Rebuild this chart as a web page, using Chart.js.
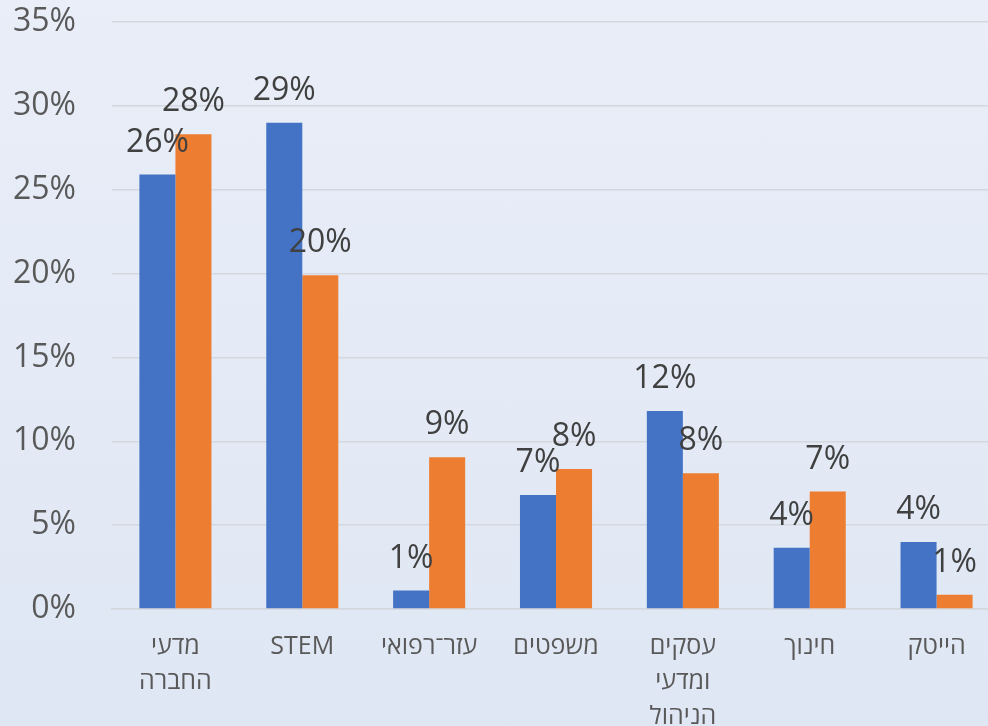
<!DOCTYPE html>
<html>
<head>
<meta charset="utf-8">
<script src="https://cdn.jsdelivr.net/npm/chart.js@4/dist/chart.umd.min.js"></script>
<style>
html,body{margin:0;padding:0;overflow:hidden;width:988px;height:726px;}
#wrap{width:1000px;height:726px;background:linear-gradient(180deg,#e9eef8 0%,#dfe7f4 100%);}
</style>
</head>
<body>
<div id="wrap"><canvas id="c" width="1000" height="726"></canvas></div>
<script>
const categories = [["מדעי","החברה"],"STEM","עזר־רפואי","משפטים",["עסקים","ומדעי","הניהול"],"חינוך","הייטק"];
const seriesBlue = [25.9, 29.0, 1.1, 6.8, 11.8, 3.65, 4.0];
const seriesOrange = [28.3, 19.9, 9.05, 8.35, 8.1, 7.0, 0.85];
const labelsBlue = ["26%","29%","1%","7%","12%","4%","4%"];
const labelsOrange = ["28%","20%","9%","8%","8%","7%","1%"];
const yTicks = [0,5,10,15,20,25,30,35];

const valueLabels = {
  id:'valueLabels',
  afterDatasetsDraw(chart){
    const ctx = chart.ctx;
    const texts = [labelsBlue, labelsOrange];
    ctx.save();
    ctx.font = '32px "Open Sans"';
    ctx.fillStyle = '#404040';
    ctx.textAlign = 'center';
    ctx.textBaseline = 'middle';
    chart.data.datasets.forEach((ds,i)=>{
      chart.getDatasetMeta(i).data.forEach((bar,j)=>{
        ctx.fillText(texts[i][j], bar.x, bar.y - 32);
      });
    });
    ctx.restore();
  }
};

new Chart(document.getElementById('c'),{
  type:'bar',
  data:{
    labels:categories,
    datasets:[
      {data:seriesBlue, backgroundColor:'#4472C4', borderWidth:0},
      {data:seriesOrange, backgroundColor:'#ED7D31', borderWidth:0}
    ]
  },
  options:{
    responsive:false,
    animation:false,
    layout:{padding:{top:22,right:0,left:0,bottom:0}},
    plugins:{legend:{display:false},tooltip:{enabled:false}},
    datasets:{bar:{barPercentage:1.0,categoryPercentage:0.568}},
    scales:{
      x:{
        grid:{display:false,drawTicks:false},
        border:{display:true,color:'#d4d8de',width:1.5},
        ticks:{color:'#595959',font:{family:'"Open Sans"',size:25,lineHeight:1.4},padding:20,maxRotation:0,autoSkip:false},
        afterFit(s){s.height=117;s.paddingLeft=0;s.paddingRight=0;}
      },
      y:{
        min:0,max:35,
        afterBuildTicks(s){s.ticks = yTicks.map(v=>({value:v}));},
        grid:{color:'#d4d8de',lineWidth:1.5,drawTicks:false},
        border:{display:false},
        ticks:{color:'#595959',font:{family:'"Open Sans"',size:32},padding:36,callback:v=>v+'%'},
        afterFit(s){s.width=112;s.paddingTop=0;s.paddingBottom=0;}
      }
    }
  },
  plugins:[valueLabels]
});
</script>
</body>
</html>
